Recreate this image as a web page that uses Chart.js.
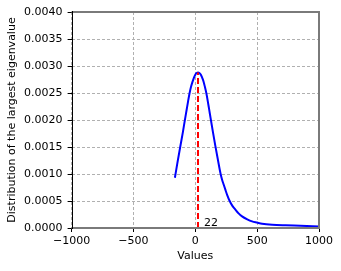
<!DOCTYPE html>
<html>
<head>
<meta charset="utf-8">
<script src="https://cdn.jsdelivr.net/npm/chart.js@4/dist/chart.umd.min.js"></script>
<style>
html,body{margin:0;padding:0;background:#fff;}
#wrap{width:341px;height:271px;position:relative;}
</style>
</head>
<body>
<div id="wrap"><canvas id="c" width="341" height="271"></canvas></div>
<script>
// ---- data ----
const curveX = [-165,-145,-122,-100,-85,-70,-58,-46,-34,-22,-10,0,11,22,33,45,56,67,78,89,100,111,124,143,162,183,203,216,230,243,258,276,300,324,350,378,420,459,500,540,621,729,850,1000];
const curveY = [0.00093,0.00120,0.00150,0.00178,0.00199,0.00219,0.00235,0.00250,0.00262,0.00271,0.00279,0.00284,0.00287,0.00288,0.00287,0.00284,0.00278,0.00271,0.00261,0.00250,0.00236,0.00221,0.00203,0.00177,0.00152,0.00126,0.00102,0.00090,0.00080,0.00071,0.00061,0.00051,0.00041,0.00034,0.00027,0.000215,0.00016,0.000122,0.0001,0.00008,0.000061,0.00005,0.000042,0.00003];
const modeValue = 22;
const modeDensity = 0.00288;
const modeLabel = "22";
const xTickValues = [-1000,-500,0,500,1000];
const yTickValues = [0,0.0005,0.001,0.0015,0.002,0.0025,0.003,0.0035,0.004];
const xTitle = "Values";
const yTitle = "Distribution of the largest eigenvalue";

const FONT = "'DejaVu Sans', sans-serif";
const FS = 11;
const curvePts = curveX.map((x,i)=>({x:x,y:curveY[i]}));
const modePts = [{x:modeValue,y:0},{x:modeValue,y:modeDensity}];

const framePlugin = {
  id:'frame',
  afterDatasetsDraw(chart){
    const {ctx, chartArea:a, scales:{x,y}} = chart;
    ctx.save();
    ctx.fillStyle='#000';
    ctx.font = FS + "px " + FONT;
    ctx.textAlign='left';
    ctx.textBaseline='alphabetic';
    ctx.fillText(modeLabel, x.getPixelForValue(modeValue)+6, y.getPixelForValue(0)-2);
    ctx.strokeStyle='#7a7a7a';
    ctx.lineWidth=2;
    ctx.beginPath();
    ctx.moveTo(a.left, a.top); ctx.lineTo(a.right, a.top);
    ctx.lineTo(a.right, a.bottom); ctx.lineTo(a.left, a.bottom);
    ctx.stroke();
    ctx.strokeStyle='#000';
    ctx.lineWidth=1;
    ctx.beginPath();
    ctx.moveTo(Math.round(a.left)+0.5, a.top-1); ctx.lineTo(Math.round(a.left)+0.5, a.bottom+1);
    ctx.stroke();
    ctx.restore();
  }
};

new Chart(document.getElementById('c'), {
  type:'scatter',
  data:{
    datasets:[
      {data:modePts, showLine:true, borderColor:'#ff0000', borderWidth:2, borderDash:[6,3], pointRadius:0, order:0},
      {data:curvePts, showLine:true, borderColor:'#0000ff', borderWidth:2, pointRadius:0, cubicInterpolationMode:'monotone', order:1}
    ]
  },
  options:{
    responsive:false,
    animation:false,
    events:[],
    layout:{padding:{top:12,right:22,left:0,bottom:0}},
    plugins:{legend:{display:false},tooltip:{enabled:false}},
    scales:{
      x:{
        type:'linear', min:-1000, max:1000,
        afterBuildTicks(s){ s.ticks = xTickValues.map(v=>({value:v})); },
        afterFit(s){ s.height = 43; },
        border:{display:false, dash:[3,2]},
        grid:{color:'#b0b0b0', lineWidth:1, tickColor:'#000', tickLength:4, tickBorderDash:[]},
        ticks:{color:'#000', font:{family:FONT,size:FS}, padding:3, maxRotation:0,
          callback:(v)=> (v<0?'\u2212'+Math.abs(v):String(v))},
        title:{display:true, text:xTitle, color:'#000', font:{family:FONT,size:FS}, padding:{top:0,bottom:8.4}}
      },
      y:{
        type:'linear', min:0, max:0.004,
        afterBuildTicks(s){ s.ticks = yTickValues.map(v=>({value:v})); },
        afterFit(s){ s.width = 71.6; },
        border:{display:false, dash:[3,2]},
        grid:{color:'#b0b0b0', lineWidth:1, tickColor:'#000', tickLength:4, tickBorderDash:[]},
        ticks:{color:'#000', font:{family:FONT,size:FS}, padding:5,
          callback:(v)=> Number(v).toFixed(4)},
        title:{display:true, text:yTitle, color:'#000', font:{family:FONT,size:FS}, padding:{top:5.4,bottom:0}}
      }
    }
  },
  plugins:[framePlugin]
});
</script>
</body>
</html>
